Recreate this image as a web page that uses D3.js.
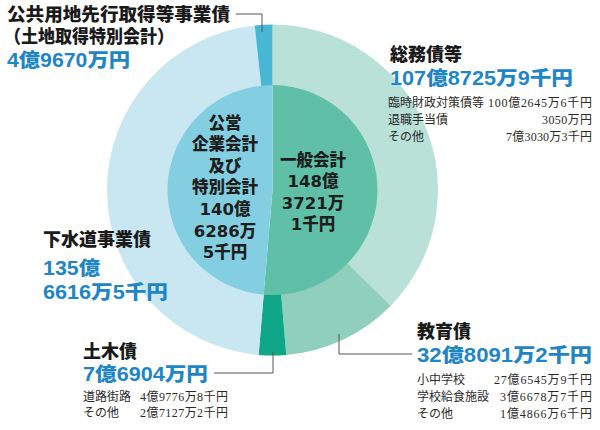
<!DOCTYPE html>
<html><head><meta charset="utf-8">
<script src="https://cdn.jsdelivr.net/npm/d3@7"></script>
<style>
html,body{margin:0;padding:0;background:#fff;}
svg{display:block;font-family:"Liberation Sans","Noto Sans CJK JP",sans-serif;}
</style></head>
<body>
<svg id="chart" width="600" height="430"></svg>
<script>
// ---- data (units: 千円) ----
const outerCategories = ["総務債等","教育債","土木債","下水道事業債","公共用地先行取得等事業債"];
const outerValues = [10787259, 3280912, 769040, 13566165, 496700];
const innerCategories = ["一般会計","公営企業会計及び特別会計"];
const innerValues = [14837211, 14062865];

const outerValueLabels = ["107億8725万9千円","32億8091万2千円","7億6904万円","135億6616万5千円","4億9670万円"];
const innerLabelLines = [["一般会計","148億","3721万","1千円"],["公営","企業会計","及び","特別会計","140億","6286万","5千円"]];

const soumuDetails = [["臨時財政対策債等","100億2645万6千円"],["退職手当債","3050万円"],["その他","7億3030万3千円"]];
const kyouikuDetails = [["小中学校","27億6545万9千円"],["学校給食施設","3億6678万7千円"],["その他","1億4866万6千円"]];
const dobokuDetails = [["道路街路","4億9776万8千円"],["その他","2億7127万2千円"]];

// ---- layout ----
const outerColors = ["#b9e1d7","#8fcfbc","#10a688","#c9e7f0","#47b7d5"];
const innerColors = ["#5fc0a7","#84cee1"];
const blue = "#1f86c6";
const cx = 272.5, cy = 190, rOuter = 165.5, rInner = 105;

const svg = d3.select("#chart");
const g = svg.append("g").attr("transform", `translate(${cx},${cy})`);

const pie = d3.pie().sort(null).value(d => d);
const outerArc = d3.arc().innerRadius(rInner - 1).outerRadius(rOuter);
const innerArc = d3.arc().innerRadius(0).outerRadius(rInner);

g.selectAll("path.outer").data(pie(outerValues)).join("path")
  .attr("class","outer").attr("d", outerArc)
  .attr("fill", (d,i) => outerColors[i]);
g.selectAll("path.inner").data(pie(innerValues)).join("path")
  .attr("class","inner").attr("d", innerArc)
  .attr("fill", (d,i) => innerColors[i]);

// inner labels
const innerX = [313 - cx, 225 - cx];
const innerY0 = [160 - cy, 123 - cy];
innerLabelLines.forEach((lines, k) => {
  lines.forEach((s, j) => {
    g.append("text").attr("text-anchor","middle")
      .attr("font-family", "\"DejaVu Sans\",\"Noto Sans CJK JP\",sans-serif")
      .attr("font-size", 16.5).attr("font-weight", 900).attr("fill", "#1e1e1e")
      .attr("x", innerX[k]).attr("y", innerY0[k] + j * 21.6)
      .attr("dominant-baseline","central").text(s);
  });
});

// ---- annotations ----
const lineColor = "#555";
function leader(points){
  svg.append("path").attr("d", d3.line()(points)).attr("fill","none")
    .attr("stroke", lineColor).attr("stroke-width", 1);
}
function title(x, y, s, len){
  const t = svg.append("text").attr("x", x).attr("y", y).attr("dominant-baseline","central")
    .attr("font-size", 18).attr("font-weight", 900).attr("fill", "#1a1a1a").text(s);
  if (len) t.attr("textLength", len).attr("lengthAdjust","spacingAndGlyphs");
}
function value(x, y, s, len){
  svg.append("text").attr("x", x).attr("y", y).attr("dominant-baseline","central")
    .attr("font-size", 19.5).attr("font-weight", 900).attr("fill", blue)
    .attr("textLength", len).attr("lengthAdjust","spacingAndGlyphs").text(s);
}
const serif = "\"Liberation Serif\",\"Noto Sans CJK JP\",serif";
function details(x, xr, y0, rows, dy, lens){
  rows.forEach((r, j) => {
    svg.append("text").attr("x", x).attr("y", y0 + j*dy).attr("dominant-baseline","central")
      .attr("font-family", serif).attr("font-size", 12).attr("fill", "#2a2a2a").text(r[0]);
    svg.append("text").attr("x", xr - lens[j]).attr("y", y0 + j*dy).attr("dominant-baseline","central")
      .attr("font-family", serif).attr("font-size", 12).attr("fill", "#2a2a2a")
      .attr("textLength", lens[j]).attr("lengthAdjust","spacing").text(r[1]);
  });
}

// 公共用地先行取得等事業債
title(7, 15, outerCategories[4], 223);
title(4, 37, "（土地取得特別会計）", 170);
value(7, 60, outerValueLabels[4], 123);
leader([[236,14],[262,14],[262,32]]);

// 総務債等
title(390, 55, outerCategories[0]);
value(390, 78, outerValueLabels[0], 183);
details(388, 592, 103, soumuDetails, 17, [104, 50, 86]);

// 教育債
title(417, 332, outerCategories[1]);
value(417, 355, outerValueLabels[1], 175);
details(417, 592, 380, kyouikuDetails, 17, [98, 92, 92]);
leader([[339,334],[339,354],[412,354]]);

// 土木債
title(83, 352, outerCategories[2]);
value(83, 374, outerValueLabels[2], 125);
details(83, 228, 397, dobokuDetails, 16, [88, 88]);
leader([[214,373],[273,373],[273,352]]);

// 下水道事業債
title(43, 240, outerCategories[3]);
value(43, 268, "135億", 57);
value(43, 292, "6616万5千円", 125);
</script>
</body></html>
